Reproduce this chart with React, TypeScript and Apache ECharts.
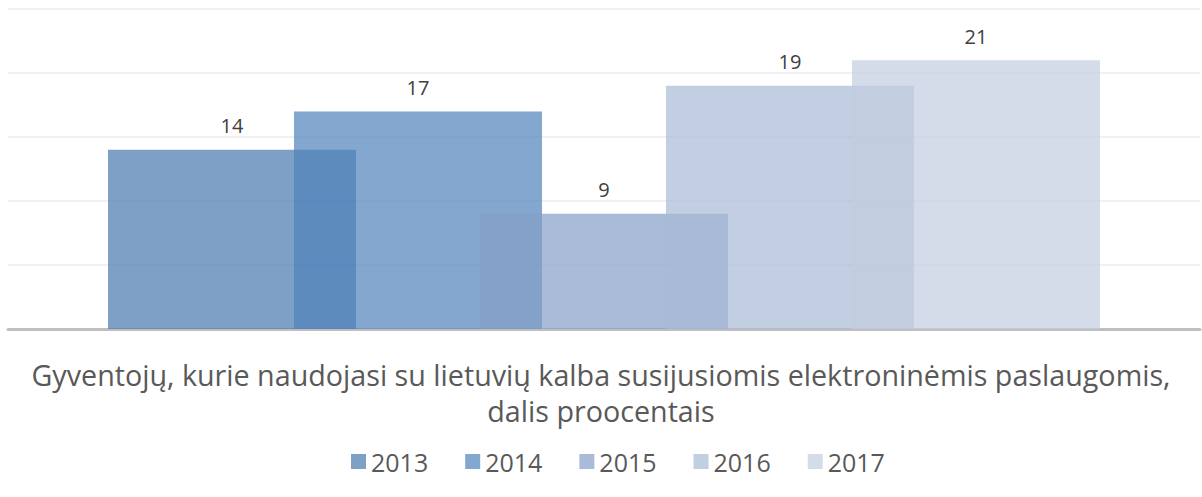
import React, { useEffect, useRef } from "react";
import * as echarts from "echarts";

const categories = ["Gyventojų dalis"];
const years = ["2013", "2014", "2015", "2016", "2017"];
const values = [14, 17, 9, 19, 21];
const colors = [
  "rgba(72,119,174,0.7)",
  "rgba(79,129,186,0.7)",
  "rgba(132,158,199,0.7)",
  "rgba(168,185,214,0.7)",
  "rgba(195,205,224,0.7)",
];
const titleLines = [
  "Gyventojų, kurie naudojasi su lietuvių kalba susijusiomis elektroninėmis paslaugomis,",
  "dalis proocentais",
];

export default function App() {
  const ref = useRef<HTMLDivElement>(null);
  useEffect(() => {
    document.body.style.margin = "0";
    const chart = echarts.init(ref.current!, null, { renderer: "svg" });
    const font = "'Open Sans', sans-serif";
    chart.setOption({
      animation: false,
      backgroundColor: "#ffffff",
      graphic: titleLines.map((t, i) => ({
        type: "text",
        x: 601,
        y: 374 + i * 36,
        style: {
          text: t,
          fontFamily: font,
          fontSize: 28.7,
          fill: "#595959",
          textAlign: "center",
          textVerticalAlign: "middle",
        },
      })),
      legend: {
        data: years,
        left: 346,
        top: 444,
        itemWidth: 15,
        itemHeight: 15,
        itemGap: 37,
        icon: "rect",
        textStyle: { fontFamily: font, fontSize: 25, color: "#595959" },
      },
      grid: { left: 8, right: 2, top: 9, bottom: 168 },
      xAxis: {
        type: "category",
        data: categories,
        axisLine: { lineStyle: { color: "#BFBFBF", width: 3 } },
        axisTick: { show: false },
        axisLabel: { show: false },
      },
      yAxis: {
        type: "value",
        min: 0,
        max: 25,
        interval: 5,
        axisLabel: { show: false },
        axisLine: { show: false },
        axisTick: { show: false },
        splitLine: { lineStyle: { color: "#F0F0F0", width: 2 } },
      },
      series: years.map((y, i) => ({
        name: y,
        type: "bar",
        data: [values[i]],
        barWidth: 248,
        barGap: "-25%",
        itemStyle: { color: colors[i] },
        label: {
          show: true,
          position: "top",
          distance: 14,
          fontFamily: font,
          fontSize: 20,
          color: "#404040",
        },
      })),
    });
    return () => chart.dispose();
  }, []);
  return <div ref={ref} style={{ width: 1202, height: 497 }} />;
}
